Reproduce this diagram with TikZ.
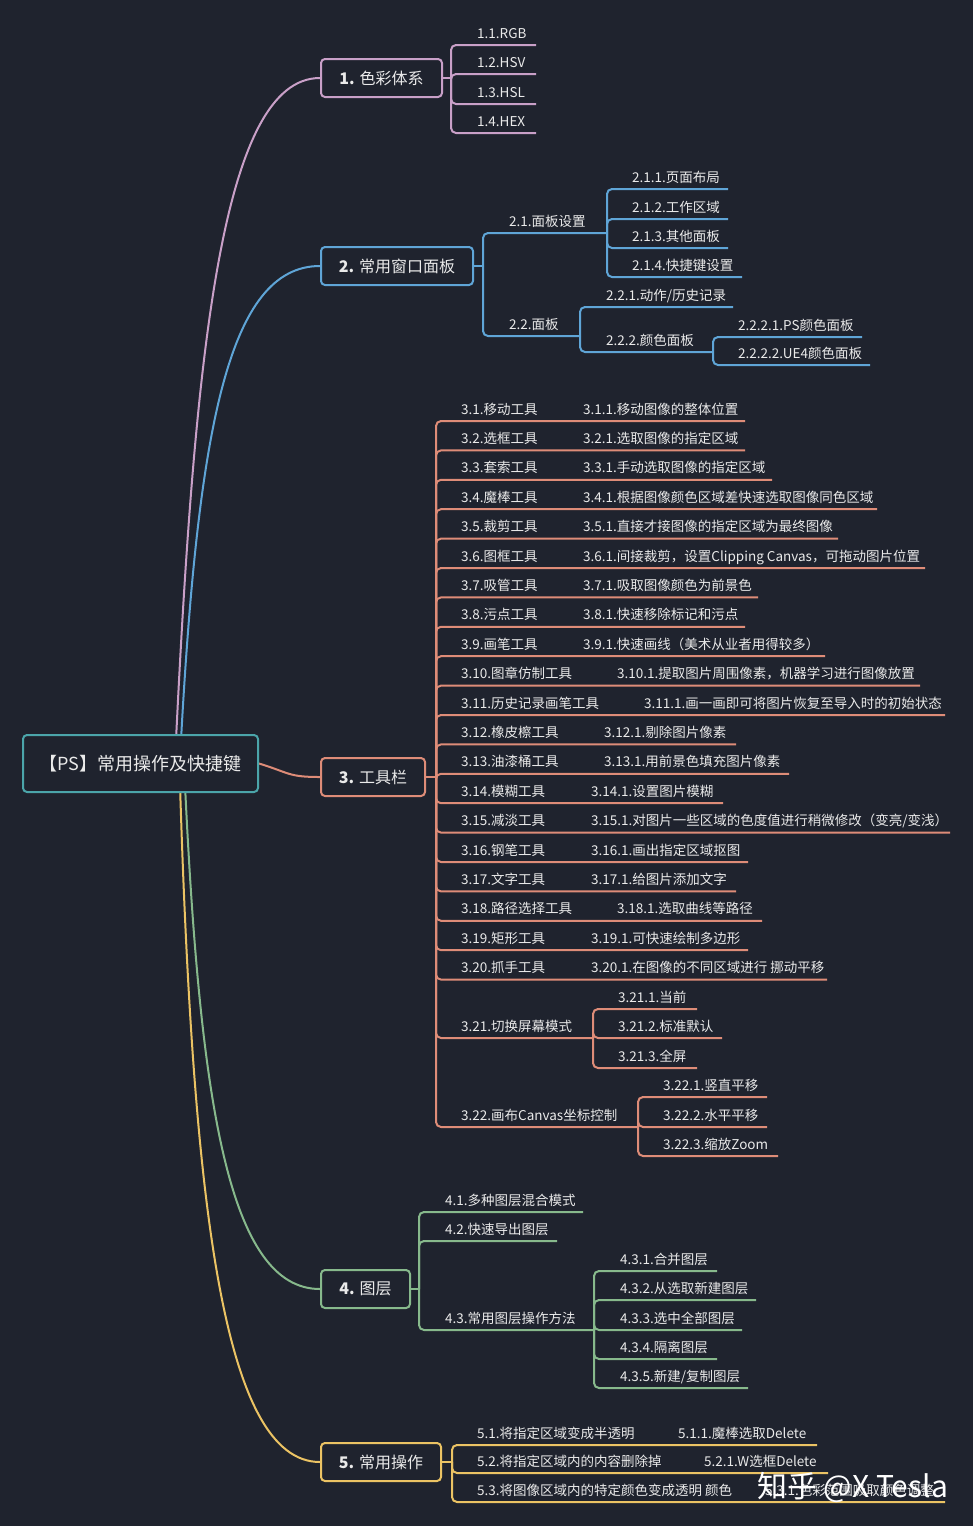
\documentclass[tikz,border=0pt]{standalone}
\usepackage{fontspec}
\setmainfont{Noto Sans CJK SC}
\definecolor{bgc}{RGB}{31,35,46}
\definecolor{pk}{RGB}{201,160,200}
\definecolor{bl}{RGB}{95,165,215}
\definecolor{sa}{RGB}{222,140,120}
\definecolor{gr}{RGB}{135,185,140}
\definecolor{ye}{RGB}{235,195,100}
\definecolor{rt}{RGB}{75,165,170}
\definecolor{tx}{RGB}{234,234,234}
\pgfdeclarelayer{back}
\pgfdeclarelayer{bg}
\pgfsetlayers{back,bg,main}
\tikzset{
  leaf/.style={text=tx,inner sep=0pt,font=\fontsize{13.5}{16}\selectfont},
  mbox/.style={draw=#1,line width=2pt,rounded corners=4pt,fill=bgc,text=tx,
    font=\fontsize{16}{19}\selectfont,minimum height=38pt,inner sep=0pt,anchor=west},
  conn/.style={draw=#1,line width=2pt},
}
\newcommand\kid[7]{%
  \coordinate (#1-e) at (#6,#5);
  \begin{pgfonlayer}{bg}\draw[conn=#2,rounded corners=5pt] (#3) |- (#1-e);\end{pgfonlayer}
  \node[leaf,anchor=base west] (#1) at (#4,#5-7) {#7};
}
\newcommand\sub[4]{\node[leaf,anchor=base west] (#1) at (#2,#3-7) {#4};}
\begin{document}
\begin{tikzpicture}[x=1pt,y=-1pt]
\useasboundingbox (0,0) rectangle (973,1526);
\begin{pgfonlayer}{back}
\fill[bgc] (0,0) rectangle (973,1526);
\end{pgfonlayer}

% root and main boxes
\node[draw=rt,line width=2pt,rounded corners=4pt,fill=bgc,text=tx,
  font=\fontsize{18}{21}\selectfont,minimum width=235pt,minimum height=57pt,
  inner sep=0pt,anchor=north west] (root) at (22,734) {【PS】常用操作及快捷键};
\node[mbox=pk,minimum width=121pt] (b1) at (320,78) {\textbf{1.} 色彩体系};
\node[mbox=bl,minimum width=152pt] (b2) at (320,266) {\textbf{2.} 常用窗口面板};
\node[mbox=sa,minimum width=104pt] (b3) at (320,777) {\textbf{3.} 工具栏};
\node[mbox=gr,minimum width=89pt] (b4) at (320,1289) {\textbf{4.} 图层};
\node[mbox=ye,minimum width=120pt] (b5) at (320,1462) {\textbf{5.} 常用操作};

\coordinate (rp1) at (176,740);
\coordinate (rp2) at (181,740);
\coordinate (rp4) at (185,785);
\coordinate (rp5) at (180,785);
\begin{pgfonlayer}{bg}
\draw[conn=pk] (rp1) .. controls (195,350) and (222,78) .. (b1.west);
\draw[conn=bl] (rp2) .. controls (198,430) and (228,266) .. (b2.west);
\draw[conn=sa] (root.east) .. controls (290,773) and (288,777) .. (b3.west);
\draw[conn=gr] (rp4) .. controls (200,1100) and (228,1289) .. (b4.west);
\draw[conn=ye] (rp5) .. controls (193,1200) and (222,1462) .. (b5.west);
\end{pgfonlayer}

% ---------- branch 1
\coordinate (j1) at (451,78);
\begin{pgfonlayer}{bg}\draw[conn=pk] (b1.east) -- (j1);\end{pgfonlayer}
\kid{k11}{pk}{j1}{477}{45}{536}{1.1.RGB}
\kid{k12}{pk}{j1}{477}{74}{536}{1.2.HSV}
\kid{k13}{pk}{j1}{477}{104}{536}{1.3.HSL}
\kid{k14}{pk}{j1}{477}{133}{536}{1.4.HEX}

% ---------- branch 2
\coordinate (j2) at (483,266);
\begin{pgfonlayer}{bg}\draw[conn=bl] (b2.east) -- (j2);\end{pgfonlayer}
\kid{k21}{bl}{j2}{509}{233}{607}{2.1.面板设置}
\kid{k22}{bl}{j2}{509}{336}{580}{2.2.面板}
\kid{k211}{bl}{k21-e}{632}{189}{728}{2.1.1.页面布局}
\kid{k212}{bl}{k21-e}{632}{219}{728}{2.1.2.工作区域}
\kid{k213}{bl}{k21-e}{632}{248}{728}{2.1.3.其他面板}
\kid{k214}{bl}{k21-e}{632}{277}{742}{2.1.4.快捷键设置}
\kid{k221}{bl}{k22-e}{606}{307}{733}{2.2.1.动作/历史记录}
\kid{k222}{bl}{k22-e}{606}{352}{713}{2.2.2.颜色面板}
\kid{k2221}{bl}{k222-e}{738}{337}{862}{2.2.2.1.PS颜色面板}
\kid{k2222}{bl}{k222-e}{738}{365}{870}{2.2.2.2.UE4颜色面板}

% ---------- branch 3
\coordinate (j3) at (436,777);
\begin{pgfonlayer}{bg}\draw[conn=sa] (b3.east) -- (j3);\end{pgfonlayer}
\kid{k301}{sa}{j3}{461}{421}{745}{3.1.移动工具}
\sub{k301a}{583}{421}{3.1.1.移动图像的整体位置}
\kid{k302}{sa}{j3}{461}{450.4}{745}{3.2.选框工具}
\sub{k302a}{583}{450.4}{3.2.1.选取图像的指定区域}
\kid{k303}{sa}{j3}{461}{479.8}{772}{3.3.套索工具}
\sub{k303a}{583}{479.8}{3.3.1.手动选取图像的指定区域}
\kid{k304}{sa}{j3}{461}{509.2}{877}{3.4.魔棒工具}
\sub{k304a}{583}{509.2}{3.4.1.根据图像颜色区域差快速选取图像同色区域}
\kid{k305}{sa}{j3}{461}{538.6}{838}{3.5.裁剪工具}
\sub{k305a}{583}{538.6}{3.5.1.直接才接图像的指定区域为最终图像}
\kid{k306}{sa}{j3}{461}{568}{925}{3.6.图框工具}
\sub{k306a}{583}{568}{3.6.1.间接裁剪，设置Clipping Canvas，可拖动图片位置}
\kid{k307}{sa}{j3}{461}{597.4}{758}{3.7.吸管工具}
\sub{k307a}{583}{597.4}{3.7.1.吸取图像颜色为前景色}
\kid{k308}{sa}{j3}{461}{626.8}{745}{3.8.污点工具}
\sub{k308a}{583}{626.8}{3.8.1.快速移除标记和污点}
\kid{k309}{sa}{j3}{461}{656.2}{825}{3.9.画笔工具}
\sub{k309a}{583}{656.2}{3.9.1.快速画线（美术从业者用得较多）}
\kid{k310}{sa}{j3}{461}{685.6}{920}{3.10.图章仿制工具}
\sub{k310a}{617}{685.6}{3.10.1.提取图片周围像素，机器学习进行图像放置}
\kid{k311}{sa}{j3}{461}{715}{945}{3.11.历史记录画笔工具}
\sub{k311a}{644}{715}{3.11.1.画一画即可将图片恢复至导入时的初始状态}
\kid{k312}{sa}{j3}{461}{744.4}{736}{3.12.橡皮檫工具}
\sub{k312a}{604}{744.4}{3.12.1.剔除图片像素}
\kid{k313}{sa}{j3}{461}{773.8}{789}{3.13.油漆桶工具}
\sub{k313a}{604}{773.8}{3.13.1.用前景色填充图片像素}
\kid{k314}{sa}{j3}{461}{803.2}{723}{3.14.模糊工具}
\sub{k314a}{591}{803.2}{3.14.1.设置图片模糊}
\kid{k315}{sa}{j3}{461}{832.6}{950}{3.15.减淡工具}
\sub{k315a}{591}{832.6}{3.15.1.对图片一些区域的色度值进行稍微修改（变亮/变浅）}
\kid{k316}{sa}{j3}{461}{862}{748}{3.16.钢笔工具}
\sub{k316a}{591}{862}{3.16.1.画出指定区域抠图}
\kid{k317}{sa}{j3}{461}{891.4}{736}{3.17.文字工具}
\sub{k317a}{591}{891.4}{3.17.1.给图片添加文字}
\kid{k318}{sa}{j3}{461}{920.8}{762}{3.18.路径选择工具}
\sub{k318a}{617}{920.8}{3.18.1.选取曲线等路径}
\kid{k319}{sa}{j3}{461}{950.2}{748}{3.19.矩形工具}
\sub{k319a}{591}{950.2}{3.19.1.可快速绘制多边形}
\kid{k320}{sa}{j3}{461}{979.6}{827}{3.20.抓手工具}
\sub{k320a}{591}{979.6}{3.20.1.在图像的不同区域进行 挪动平移}
\kid{k321}{sa}{j3}{461}{1038}{593}{3.21.切换屏幕模式}
\kid{k3211}{sa}{k321-e}{618}{1009}{697}{3.21.1.当前}
\kid{k3212}{sa}{k321-e}{618}{1038}{722}{3.21.2.标准默认}
\kid{k3213}{sa}{k321-e}{618}{1068}{697}{3.21.3.全屏}
\kid{k322}{sa}{j3}{461}{1127}{638}{3.22.画布Canvas坐标控制}
\kid{k3221}{sa}{k322-e}{663}{1097}{767}{3.22.1.竖直平移}
\kid{k3222}{sa}{k322-e}{663}{1127}{767}{3.22.2.水平平移}
\kid{k3223}{sa}{k322-e}{663}{1156}{778}{3.22.3.缩放Zoom}

% ---------- branch 4
\coordinate (j4) at (419,1289);
\begin{pgfonlayer}{bg}\draw[conn=gr] (b4.east) -- (j4);\end{pgfonlayer}
\kid{k41}{gr}{j4}{445}{1212}{583}{4.1.多种图层混合模式}
\kid{k42}{gr}{j4}{445}{1241}{557}{4.2.快速导出图层}
\kid{k43}{gr}{j4}{445}{1330}{594}{4.3.常用图层操作方法}
\kid{k431}{gr}{k43-e}{620}{1271}{717}{4.3.1.合并图层}
\kid{k432}{gr}{k43-e}{620}{1300}{756}{4.3.2.从选取新建图层}
\kid{k433}{gr}{k43-e}{620}{1330}{742}{4.3.3.选中全部图层}
\kid{k434}{gr}{k43-e}{620}{1359}{717}{4.3.4.隔离图层}
\kid{k435}{gr}{k43-e}{620}{1388}{748}{4.3.5.新建/复制图层}

% ---------- branch 5
\coordinate (j5) at (452,1462);
\begin{pgfonlayer}{bg}\draw[conn=ye] (b5.east) -- (j5);\end{pgfonlayer}
\kid{k51}{ye}{j5}{477}{1445}{817}{5.1.将指定区域变成半透明}
\sub{k51a}{678}{1445}{5.1.1.魔棒选取Delete}
\kid{k52}{ye}{j5}{477}{1473}{828}{5.2.将指定区域内的内容删除掉}
\sub{k52a}{704}{1473}{5.2.1.W选框Delete}
\kid{k53}{ye}{j5}{477}{1502}{945}{5.3.将图像区域内的特定颜色变成透明 颜色}
\sub{k53a}{765}{1502}{5.3.1.色彩范围吸取颜色调整}

% watermark
\node[text=white,inner sep=0pt,anchor=base west,font=\fontsize{30}{32}\selectfont] (wm) at (757,1497) {知乎 @X Tesla};
\end{tikzpicture}
\end{document}
